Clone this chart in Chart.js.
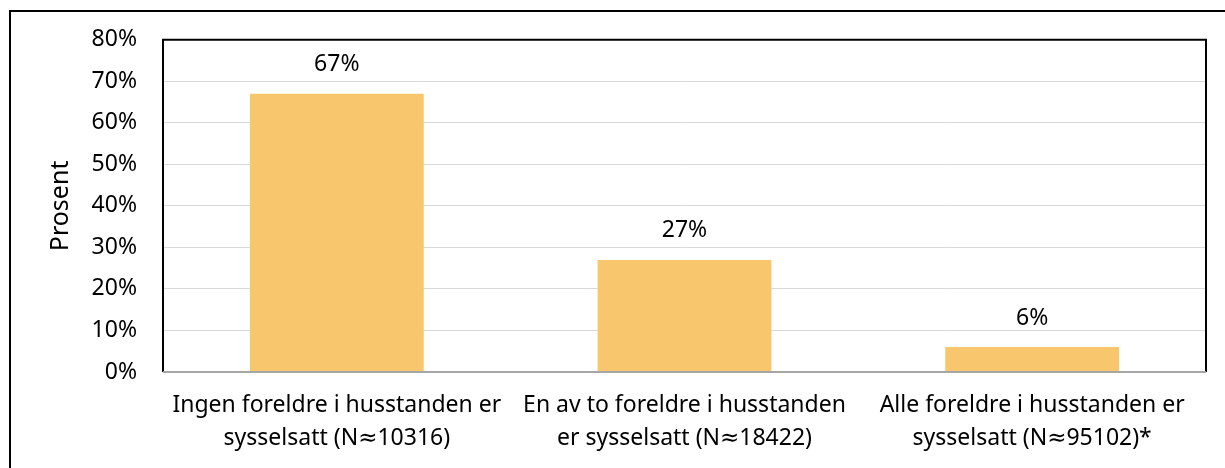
<!DOCTYPE html>
<html>
<head>
<meta charset="utf-8">
<script src="https://cdn.jsdelivr.net/npm/chart.js@4/dist/chart.umd.min.js"></script>
<style>
  html, body { margin: 0; padding: 0; background: #fff; overflow: hidden; }
  #ramme {
    position: absolute; left: 9px; top: 10px;
    width: 1400px; height: 600px;
    border: 2px solid #000;
  }
  #wrap { position: absolute; left: 0; top: 0; width: 1225px; height: 468px; }
</style>
</head>
<body>
<div id="ramme"></div>
<div id="wrap"><canvas id="graf"></canvas></div>
<script>
// data lest av figuren
const kategorier = [
  ['Ingen foreldre i husstanden er', 'sysselsatt (N≈10316)'],
  ['En av to foreldre i husstanden', 'er sysselsatt (N≈18422)'],
  ['Alle foreldre i husstanden er', 'sysselsatt (N≈95102)*']
];
const andel = [67, 27, 6];
const yMaks = 80;
const ySteg = 10;

const FONT = '"Noto Sans", "DejaVu Sans", sans-serif';
const STR = 23;

// etiketter over søylene + ramme rundt plottet
const ekstra = {
  id: 'ekstra',
  afterDatasetsDraw(chart) {
    const ctx = chart.ctx;
    const a = chart.chartArea;
    ctx.save();
    // ramme
    ctx.strokeStyle = '#000';
    ctx.lineWidth = 2;
    ctx.beginPath();
    ctx.moveTo(a.left, a.bottom);
    ctx.lineTo(a.left, a.top);
    ctx.lineTo(a.right, a.top);
    ctx.lineTo(a.right, a.bottom);
    ctx.stroke();
    ctx.strokeStyle = '#a6a6a6';
    ctx.beginPath();
    ctx.moveTo(a.left, a.bottom);
    ctx.lineTo(a.right, a.bottom);
    ctx.stroke();
    // verdier
    ctx.fillStyle = '#000';
    ctx.font = STR + 'px ' + FONT;
    ctx.textAlign = 'center';
    ctx.textBaseline = 'middle';
    chart.getDatasetMeta(0).data.forEach((bar, i) => {
      ctx.fillText(andel[i] + '%', bar.x, bar.y - 29);
    });
    ctx.restore();
  }
};

new Chart(document.getElementById('graf'), {
  type: 'bar',
  data: {
    labels: kategorier,
    datasets: [{
      data: andel,
      backgroundColor: '#f8c76d',
      borderWidth: 0,
      barPercentage: 0.5,
      categoryPercentage: 1.0
    }]
  },
  options: {
    responsive: true,
    maintainAspectRatio: false,
    animation: false,
    layout: { padding: { left: 30, top: 38, right: 19, bottom: 0 } },
    plugins: { legend: { display: false }, tooltip: { enabled: false } },
    scales: {
      x: {
        grid: { display: false, drawTicks: false },
        border: { display: false },
        ticks: {
          color: '#000',
          font: { family: FONT, size: STR, lineHeight: 33 / STR },
          padding: 17,
          maxRotation: 0,
          minRotation: 0,
          autoSkip: false
        },
        afterFit(s) { s.height = 96; }
      },
      y: {
        min: 0,
        max: yMaks,
        grid: { color: '#d9d9d9', lineWidth: 1, drawTicks: false },
        border: { display: false },
        ticks: {
          stepSize: ySteg,
          color: '#000',
          padding: 26,
          font: { family: FONT, size: STR },
          callback: v => v + '%'
        },
        title: {
          display: true,
          text: 'Prosent',
          color: '#000',
          font: { family: FONT, size: 25 },
          padding: { top: 16, bottom: 0 }
        },
        afterFit(s) { s.width = 133; }
      }
    }
  },
  plugins: [ekstra]
});
</script>
</body>
</html>
